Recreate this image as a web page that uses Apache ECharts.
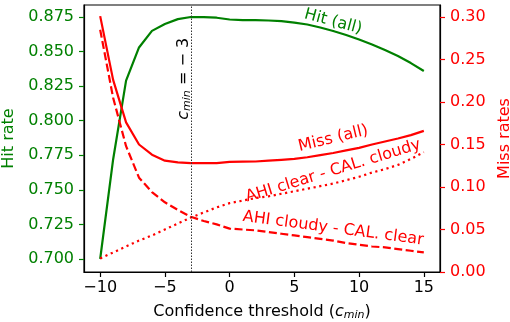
<!DOCTYPE html>
<html>
<head>
<meta charset="utf-8">
<script src="https://cdn.jsdelivr.net/npm/echarts@6/dist/echarts.min.js"></script>
<style>
  html, body { margin: 0; padding: 0; background: #fff; }
  #main { width: 510px; height: 322px; }
</style>
</head>
<body>
<div id="main"></div>
<script>
// confidence threshold c_min on the x axis
var thresholds = [-10, -9, -8, -7, -6, -5, -4, -3, -2, -1, 0, 1, 2, 3, 4, 5, 6, 7, 8, 9, 10, 11, 12, 13, 14, 15];

// hit rate (left axis)
var hitAll = [0.700, 0.772, 0.829, 0.853, 0.865, 0.870, 0.8735, 0.875, 0.875, 0.8745, 0.8732, 0.8728, 0.8727, 0.8725,
  0.872, 0.871, 0.8696, 0.8674, 0.8649, 0.862, 0.8587, 0.8551, 0.8511, 0.8468, 0.8417, 0.836];

// miss rates (right axis)
var missAll = [0.301, 0.226, 0.176, 0.150, 0.138, 0.131, 0.129, 0.128, 0.128, 0.128, 0.1295, 0.1298, 0.130, 0.131,
  0.132, 0.133, 0.135, 0.1375, 0.140, 0.143, 0.146, 0.150, 0.1535, 0.157, 0.161, 0.166];
var missCloudyClear = [0.285, 0.205, 0.148, 0.111, 0.094, 0.082, 0.073, 0.065, 0.060, 0.056, 0.051, 0.050, 0.049, 0.047,
  0.045, 0.043, 0.041, 0.039, 0.037, 0.034, 0.032, 0.030, 0.029, 0.027, 0.025, 0.023];
var missClearCloudy = [0.016, 0.023, 0.030, 0.037, 0.043, 0.050, 0.057, 0.064, 0.070, 0.076, 0.081, 0.084, 0.087, 0.089,
  0.092, 0.095, 0.098, 0.101, 0.104, 0.108, 0.112, 0.117, 0.121, 0.126, 0.133, 0.141];

// tick labels
var xTicks = [-10, -5, 0, 5, 10, 15];
var hitTicks = [0.700, 0.725, 0.750, 0.775, 0.800, 0.825, 0.850, 0.875];
var missTicks = [0.00, 0.05, 0.10, 0.15, 0.20, 0.25, 0.30];

var cmin = -3;

var green = '#008000';
var red = '#ff0000';
var font = 'DejaVu Sans';

function pairs(ys) {
  return thresholds.map(function (x, i) { return [x, ys[i]]; });
}
function withMinus(v) {
  return v < 0 ? '\u2212' + Math.abs(v) : String(v);
}

var mathRich = {
  t: { fontFamily: font, fontSize: 16, color: '#000' },
  i: { fontFamily: font, fontSize: 16, fontStyle: 'italic', color: '#000' },
  s: { fontFamily: font, fontSize: 11, fontStyle: 'italic', color: '#000', padding: [8, 0, 0, 0] }
};

var chart = echarts.init(document.getElementById('main'));

var option = {
  animation: false,
  backgroundColor: '#fff',
  grid: {
    left: 84, right: 70, top: 5, bottom: 50,
    outerBoundsMode: 'none',
    containLabel: false,
    show: true, borderColor: '#000', borderWidth: 1.2, backgroundColor: 'transparent'
  },
  xAxis: {
    type: 'value',
    min: -11.25,
    max: 16.25,
    name: '{t|Confidence threshold (}{i|c}{s|min}{t|)}',
    nameLocation: 'middle',
    nameGap: 30,
    nameTextStyle: { rich: mathRich },
    axisLine: { show: true, onZero: false, lineStyle: { color: '#000', width: 1.2 } },
    axisTick: { show: true, customValues: xTicks, length: 5, lineStyle: { color: '#000', width: 1.2 } },
    axisLabel: { customValues: xTicks, formatter: withMinus, color: '#000', fontSize: 16, fontFamily: font, margin: 8 },
    splitLine: { show: false }
  },
  yAxis: [
    {
      type: 'value',
      position: 'left',
      min: 0.6906,
      max: 0.8837,
      name: 'Hit rate',
      nameLocation: 'middle',
      nameRotate: 90,
      nameGap: 53,
      nameTextStyle: { color: green, fontSize: 16, fontFamily: font },
      axisLine: { show: true, onZero: false, lineStyle: { color: '#000', width: 1.2 } },
      axisTick: { show: true, customValues: hitTicks, length: 5, lineStyle: { color: green, width: 1.2 } },
      axisLabel: {
        customValues: hitTicks, color: green, fontSize: 16, fontFamily: font, margin: 10,
        formatter: function (v) { return v.toFixed(3); }
      },
      splitLine: { show: false }
    },
    {
      type: 'value',
      position: 'right',
      min: 0,
      max: 0.3141,
      name: 'Miss rates',
      nameLocation: 'middle',
      nameRotate: 90,
      nameGap: 48,
      nameTextStyle: { color: red, fontSize: 16, fontFamily: font },
      axisLine: { show: true, onZero: false, lineStyle: { color: '#000', width: 1.2 } },
      axisTick: { show: true, customValues: missTicks, length: 5, lineStyle: { color: red, width: 1.2 } },
      axisLabel: {
        customValues: missTicks, color: red, fontSize: 16, fontFamily: font, margin: 10,
        formatter: function (v) { return v.toFixed(2); }
      },
      splitLine: { show: false }
    }
  ],
  series: [
    {
      name: 'Hit (all)',
      type: 'line',
      yAxisIndex: 0,
      data: pairs(hitAll),
      showSymbol: false,
      lineStyle: { color: green, width: 2.2 },
      z: 3,
      markLine: {
        silent: true,
        symbol: ['none', 'none'],
        label: { show: false },
        lineStyle: { color: '#333', width: 1, type: [1.5, 1.5] },
        data: [{ xAxis: cmin }]
      }
    },
    {
      name: 'Miss (all)',
      type: 'line',
      yAxisIndex: 1,
      data: pairs(missAll),
      showSymbol: false,
      lineStyle: { color: red, width: 2.2 }
    },
    {
      name: 'AHI clear - CAL. cloudy',
      type: 'line',
      yAxisIndex: 1,
      data: pairs(missClearCloudy),
      showSymbol: false,
      lineStyle: { color: red, width: 2.2, type: [2.2, 3.6] }
    },
    {
      name: 'AHI cloudy - CAL. clear',
      type: 'line',
      yAxisIndex: 1,
      data: pairs(missCloudyClear),
      showSymbol: false,
      lineStyle: { color: red, width: 2.2, type: [8, 3.5] }
    }
  ]
};

chart.setOption(option);

// in-plot curve labels, placed in data coordinates
var curveLabels = [
  { text: 'Hit (all)', series: 0, x: 8, y: 0.8716, angle: -15, color: green },
  { text: 'Miss (all)', series: 1, x: 8, y: 0.157, angle: 13.5, color: red },
  { text: 'AHI clear - CAL. cloudy', series: 2, x: 8, y: 0.1188, angle: 17, color: red },
  { text: 'AHI cloudy - CAL. clear', series: 3, x: 8, y: 0.0512, angle: -7.5, color: red }
];

var graphics = curveLabels.map(function (l) {
  var p = chart.convertToPixel({ seriesIndex: l.series }, [l.x, l.y]);
  return {
    type: 'text',
    x: p[0], y: p[1],
    rotation: l.angle * Math.PI / 180,
    style: {
      text: l.text, fill: l.color, font: '16px "DejaVu Sans"',
      align: 'center', verticalAlign: 'middle'
    },
    z: 10
  };
});

var cPos = chart.convertToPixel({ seriesIndex: 0 }, [-3.57, 0.8303]);
graphics.push({
  type: 'text',
  x: cPos[0], y: cPos[1],
  rotation: Math.PI / 2,
  style: {
    text: '{i|c}{s|min}{t| = \u2212 3}',
    rich: mathRich,
    align: 'center', verticalAlign: 'middle'
  },
  z: 10
});

chart.setOption({ graphic: graphics });
</script>
</body>
</html>
